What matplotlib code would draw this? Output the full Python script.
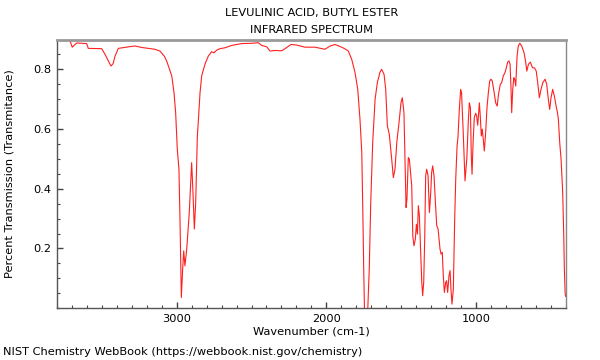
import matplotlib
matplotlib.use("Agg")
import matplotlib.pyplot as plt
from matplotlib.ticker import MultipleLocator

title_lines = ["LEVULINIC ACID, BUTYL ESTER", "INFRARED SPECTRUM"]
x_label = "Wavenumber (cm-1)"
y_label = "Percent Transmission (Transmitance)"
footer = "NIST Chemistry WebBook (https://webbook.nist.gov/chemistry)"

wavenumber = [
    3800, 3725, 3710, 3698, 3680, 3668, 3602, 3591, 3501, 3479, 3455, 3439,
    3425, 3412, 3390, 3324, 3279, 3234, 3145, 3112, 3083, 3067, 3033, 3018,
    3007, 2996, 2985, 2978, 2969, 2960, 2953, 2945, 2933, 2916, 2900, 2893,
    2882, 2873, 2862, 2856, 2844, 2833, 2811, 2789, 2766, 2751, 2733, 2711,
    2677, 2632, 2566, 2499, 2455, 2432, 2398, 2376, 2343, 2298, 2276, 2236,
    2198, 2142, 2076, 2009, 1975, 1942, 1897, 1871, 1853, 1830, 1808, 1790,
    1775, 1763, 1757, 1750, 1744, 1725, 1713, 1703, 1690, 1674, 1659, 1641,
    1630, 1614, 1603, 1592, 1579, 1563, 1552, 1541, 1529, 1514, 1501, 1492,
    1481, 1474, 1467, 1461, 1452, 1445, 1429, 1422, 1414, 1405, 1398, 1391,
    1385, 1378, 1369, 1362, 1356, 1349, 1342, 1336, 1329, 1320, 1311, 1302,
    1296, 1289, 1280, 1271, 1262, 1253, 1240, 1233, 1225, 1218, 1211, 1202,
    1196, 1189, 1180, 1173, 1167, 1160, 1151, 1142, 1135, 1126, 1120, 1111,
    1102, 1096, 1084, 1073, 1061, 1051, 1044, 1037, 1031, 1026, 1019, 1011,
    1002, 995, 988, 982, 977, 971, 964, 958, 951, 944, 935, 926,
    917, 908, 899, 891, 880, 868, 858, 849, 837, 828, 817, 806,
    797, 788, 779, 772, 766, 761, 754, 747, 741, 734, 725, 717,
    707, 694, 678, 667, 660, 649, 636, 622, 609, 597, 587, 576,
    565, 553, 538, 527, 516, 507, 498, 487, 476, 464, 455, 449,
    440, 431, 420, 413, 409, 404, 401,
]
transmittance = [
    0.900, 0.898, 0.890, 0.873, 0.882, 0.887, 0.885, 0.869, 0.868, 0.849, 0.825, 0.810,
    0.818, 0.843, 0.869, 0.874, 0.877, 0.872, 0.866, 0.860, 0.843, 0.827, 0.777, 0.721,
    0.654, 0.532, 0.465, 0.298, 0.036, 0.132, 0.192, 0.142, 0.198, 0.320, 0.487, 0.409,
    0.265, 0.354, 0.576, 0.621, 0.721, 0.777, 0.816, 0.843, 0.858, 0.854, 0.863, 0.868,
    0.871, 0.879, 0.885, 0.886, 0.888, 0.879, 0.874, 0.860, 0.862, 0.861, 0.868, 0.882,
    0.880, 0.873, 0.873, 0.866, 0.877, 0.882, 0.873, 0.866, 0.860, 0.832, 0.788, 0.732,
    0.632, 0.521, 0.354, 0.131, -0.030, -0.030, 0.131, 0.354, 0.554, 0.699, 0.754, 0.790,
    0.799, 0.782, 0.732, 0.610, 0.582, 0.499, 0.437, 0.465, 0.554, 0.621, 0.687, 0.704,
    0.654, 0.487, 0.337, 0.365, 0.504, 0.499, 0.409, 0.242, 0.209, 0.231, 0.281, 0.248,
    0.343, 0.309, 0.187, 0.087, 0.042, 0.087, 0.242, 0.443, 0.465, 0.443, 0.320, 0.387,
    0.454, 0.476, 0.443, 0.354, 0.276, 0.265, 0.198, 0.181, 0.187, 0.109, 0.053, 0.087,
    0.092, 0.053, 0.109, 0.126, 0.064, 0.014, 0.064, 0.298, 0.432, 0.543, 0.571, 0.665,
    0.732, 0.721, 0.576, 0.426, 0.500, 0.625, 0.687, 0.671, 0.510, 0.448, 0.554, 0.637,
    0.652, 0.643, 0.612, 0.654, 0.687, 0.643, 0.576, 0.599, 0.565, 0.526, 0.587, 0.671,
    0.721, 0.760, 0.766, 0.760, 0.727, 0.687, 0.676, 0.716, 0.749, 0.754, 0.777, 0.788,
    0.804, 0.823, 0.827, 0.816, 0.743, 0.654, 0.732, 0.771, 0.766, 0.743, 0.843, 0.877,
    0.886, 0.877, 0.854, 0.821, 0.793, 0.816, 0.823, 0.804, 0.804, 0.793, 0.754, 0.704,
    0.732, 0.754, 0.766, 0.749, 0.699, 0.665, 0.704, 0.732, 0.710, 0.676, 0.654, 0.632,
    0.554, 0.499, 0.387, 0.242, 0.131, 0.053, 0.040,
]

x_ticks = [3000, 2000, 1000]
y_ticks = [0.2, 0.4, 0.6, 0.8]

FS = 8.2

fig = plt.figure(figsize=(6, 3.6), dpi=100)
ax = fig.add_axes([57 / 600, 1 - 308.3 / 360, (566 - 57) / 600, (308.3 - 40) / 360])
ax.plot(wavenumber, transmittance, color="#ff2020", lw=0.8)
ax.set_xlim(3800, 398)
ax.set_ylim(0.0, 0.897)

ax.set_xticks(x_ticks)
ax.set_xticklabels([str(t) for t in x_ticks])
ax.set_yticks(y_ticks)
ax.set_yticklabels([f"{t:.1f}" for t in y_ticks])
ax.xaxis.set_minor_locator(MultipleLocator(100))
ax.yaxis.set_minor_locator(MultipleLocator(0.05))
ax.tick_params(which="both", direction="in", labelsize=FS, colors="#444444",
               labelcolor="black", top=False, right=False)
ax.tick_params(which="major", length=4, width=1, pad=4)
ax.tick_params(which="minor", length=2.5, width=0.8)

for side in ["left", "bottom"]:
    ax.spines[side].set_color("#555555")
    ax.spines[side].set_linewidth(1.0)
ax.spines["top"].set_color("#999999")
ax.spines["top"].set_linewidth(2.0)
ax.spines["right"].set_color("#888888")
ax.spines["right"].set_linewidth(1.0)

cx = (57 + 566) / 2 / 600
fig.text(cx, 1 - 13 / 360, title_lines[0], ha="center", va="center", fontsize=FS)
fig.text(cx, 1 - 30 / 360, title_lines[1], ha="center", va="center", fontsize=FS)
fig.text(cx, 1 - 332 / 360, x_label, ha="center", va="center", fontsize=FS)
fig.text(10 / 600, 1 - 174 / 360, y_label, ha="center", va="center",
         rotation=90, fontsize=FS)
fig.text(3 / 600, 1 - 352 / 360, footer, ha="left", va="center", fontsize=FS)

fig.savefig("out.png", dpi=100)
